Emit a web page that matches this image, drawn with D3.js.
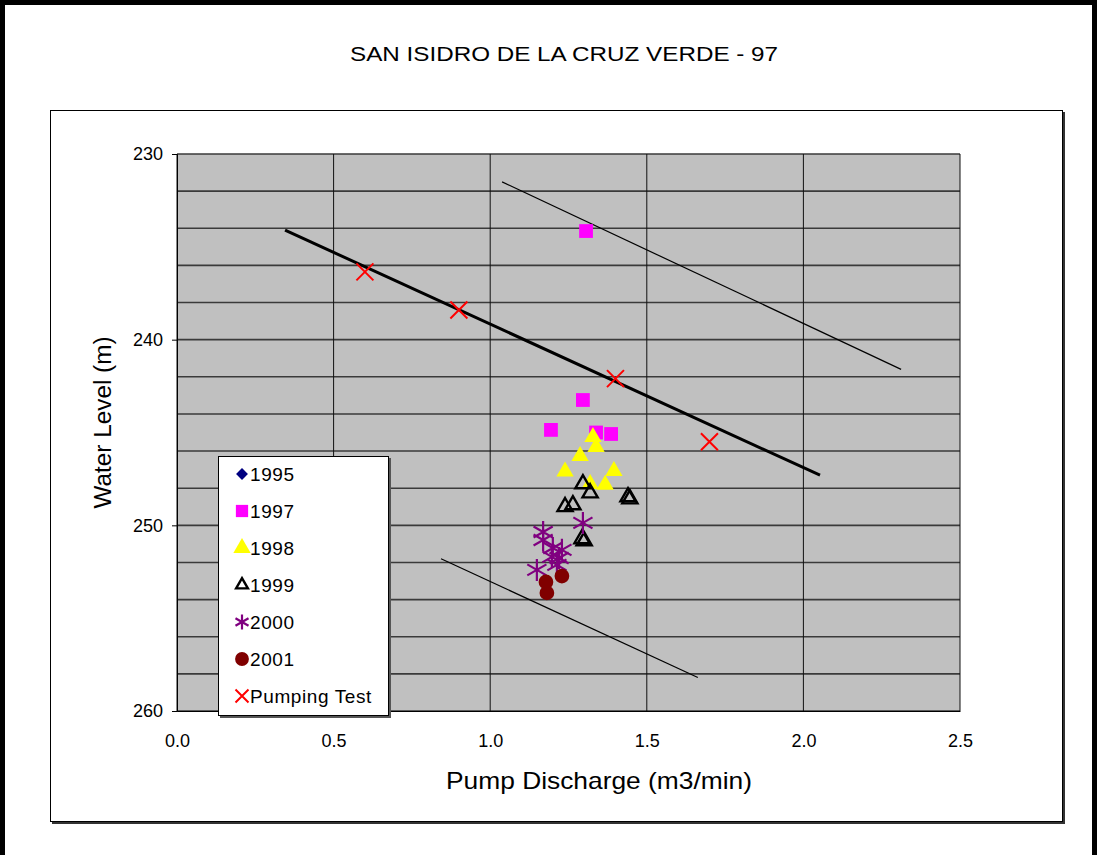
<!DOCTYPE html>
<html>
<head>
<meta charset="utf-8">
<script src="https://cdn.jsdelivr.net/npm/d3@7"></script>
<style>
  body { margin: 0; background: #fff; }
  svg { display: block; font-family: "Liberation Sans", Arial, sans-serif; }
</style>
</head>
<body>
<svg id="chart" width="1097" height="855"></svg>
<script>
// datos: [caudal m3/min, nivel m]
const pts1995 = []
const pts1997 = [[1.306, 234.15], [1.296, 243.25], [1.194, 244.86], [1.338, 245.0], [1.386, 245.08]]
const pts1998 = [[1.328, 245.24], [1.338, 245.78], [1.287, 246.26], [1.239, 247.1], [1.395, 247.07], [1.319, 247.77], [1.367, 247.82]]
const pts1999 = [[1.296, 247.77], [1.319, 248.26], [1.239, 249.0], [1.264, 248.9], [1.44, 248.47], [1.446, 248.58], [1.293, 250.73], [1.30, 250.84]]
const pts2000 = [[1.296, 249.87], [1.169, 250.36], [1.169, 250.79], [1.2, 251.22], [1.229, 251.32], [1.197, 251.7], [1.22, 251.76], [1.213, 252.13], [1.149, 252.4]]
const pts2001 = [[1.178, 253.05], [1.229, 252.73], [1.181, 253.64]]
const ptsPumping = [[0.6, 236.35], [0.9, 238.4], [1.4, 242.1], [1.7, 245.5]]

// lineas de tendencia (extremos)
const lineMain = [[0.345, 234.1], [2.053, 247.3]]
const lineUpper = [[1.038, 231.5], [2.312, 241.6]]
const lineLower = [[0.843, 251.8], [1.663, 258.2]]

const xTicks = [0, 0.5, 1.0, 1.5, 2.0, 2.5]
const yTicks = [230, 240, 250, 260]
const yGrid = d3.range(230, 261, 2)

const svg = d3.select('#chart')

// marco exterior
svg.append('rect')
  .attr('x', 2.5).attr('y', 2.5).attr('width', 1092).attr('height', 900)
  .attr('fill', 'none').attr('stroke', '#000').attr('stroke-width', 5)

svg.append('text')
  .attr('x', 564).attr('y', 61)
  .attr('text-anchor', 'middle')
  .attr('textLength', 428).attr('lengthAdjust', 'spacingAndGlyphs')
  .style('font-size', '21px')
  .text('SAN ISIDRO DE LA CRUZ VERDE - 97')

// caja del grafico con sombra
svg.append('rect').attr('x', 52).attr('y', 112).attr('width', 1013).attr('height', 712).attr('fill', '#333')
svg.append('rect').attr('x', 50.5).attr('y', 110.5).attr('width', 1012).attr('height', 711)
  .attr('fill', '#fff').attr('stroke', '#000').attr('stroke-width', 1)

const x = d3.scaleLinear().domain([0, 2.5]).range([177, 960])
const y = d3.scaleLinear().domain([230, 260]).range([154, 711])

svg.append('rect')
  .attr('x', x(0)).attr('y', y(230))
  .attr('width', x(2.5) - x(0)).attr('height', y(260) - y(230))
  .attr('fill', '#c0c0c0')

// grilla
svg.append('g').selectAll('line')
  .data(yGrid)
  .enter().append('line')
  .attr('x1', x(0)).attr('x2', x(2.5))
  .attr('y1', d => y(d)).attr('y2', d => y(d))
  .attr('stroke', '#3a3a3a').attr('stroke-width', 1.6)

svg.append('g').selectAll('line')
  .data(xTicks)
  .enter().append('line')
  .attr('x1', d => x(d)).attr('x2', d => x(d))
  .attr('y1', y(230)).attr('y2', y(260))
  .attr('stroke', '#111').attr('stroke-width', 1)

// ejes
const yAxis = svg.append('g')
  .attr('transform', `translate(${x(0)},0)`)
  .call(d3.axisLeft(y).tickValues(yTicks).tickSize(5).tickPadding(9).tickFormat(d3.format('d')))
yAxis.selectAll('text').style('font-size', '18px').attr('fill', '#000')
yAxis.select('.domain').attr('stroke', '#000')

const xAxis = svg.append('g')
  .attr('transform', `translate(0,${y(260)})`)
  .call(d3.axisBottom(x).tickValues(xTicks).tickSize(0).tickPadding(23).tickFormat(d3.format('.1f')))
xAxis.selectAll('text').style('font-size', '18px').attr('fill', '#000')
xAxis.select('.domain').attr('stroke', '#000')

svg.append('text')
  .attr('transform', `translate(111,${(y(230) + y(260)) / 2 - 10}) rotate(-90)`)
  .attr('text-anchor', 'middle')
  .attr('textLength', 172).attr('lengthAdjust', 'spacingAndGlyphs')
  .style('font-size', '23px')
  .text('Water Level (m)')

svg.append('text')
  .attr('x', 599).attr('y', 789)
  .attr('text-anchor', 'middle')
  .attr('textLength', 306).attr('lengthAdjust', 'spacingAndGlyphs')
  .style('font-size', '24px')
  .text('Pump Discharge (m3/min)')

// lineas
const lineGen = d3.line().x(d => x(d[0])).y(d => y(d[1]))
svg.append('path').attr('d', lineGen(lineUpper)).attr('stroke', '#000').attr('stroke-width', 1.2).attr('fill', 'none')
svg.append('path').attr('d', lineGen(lineLower)).attr('stroke', '#000').attr('stroke-width', 1.2).attr('fill', 'none')
svg.append('path').attr('d', lineGen(lineMain)).attr('stroke', '#000').attr('stroke-width', 3).attr('fill', 'none')

// simbolos
const asterisk = r => `M0,${-r}V${r}M${-r * 0.87},${-r * 0.5}L${r * 0.87},${r * 0.5}M${-r * 0.87},${r * 0.5}L${r * 0.87},${-r * 0.5}`
const cross = r => `M${-r},${-r}L${r},${r}M${-r},${r}L${r},${-r}`

const series = [
  { name: '1995', data: pts1995, draw: g => g.attr('d', d3.symbol(d3.symbolDiamond2, 120)()).attr('fill', '#000080') },
  { name: '1997', data: pts1997, draw: g => g.attr('d', d3.symbol(d3.symbolSquare, 190)()).attr('fill', '#ff00ff') },
  { name: '1998', data: pts1998, draw: g => g.attr('d', d3.symbol(d3.symbolTriangle, 130)()).attr('fill', '#ffff00') },
  { name: '1999', data: pts1999, draw: g => g.attr('d', d3.symbol(d3.symbolTriangle, 100)()).attr('fill', 'none').attr('stroke', '#000').attr('stroke-width', 2.4) },
  { name: '2000', data: pts2000, draw: g => g.attr('d', asterisk(11)).attr('fill', 'none').attr('stroke', '#800080').attr('stroke-width', 2.2) },
  { name: '2001', data: pts2001, draw: g => g.attr('d', d3.symbol(d3.symbolCircle, 170)()).attr('fill', '#800000') },
  { name: 'Pumping Test', data: ptsPumping, draw: g => g.attr('d', cross(8.5)).attr('fill', 'none').attr('stroke', '#ff0000').attr('stroke-width', 2) }
]

series.forEach(s => {
  svg.append('g').selectAll('path')
    .data(s.data)
    .enter().append('path')
    .attr('transform', d => `translate(${x(d[0])},${y(d[1])})`)
    .call(s.draw)
})

// leyenda
const leg = svg.append('g').attr('transform', 'translate(218,456)')
leg.append('rect').attr('x', 2).attr('y', 2).attr('width', 171).attr('height', 260).attr('fill', '#555')
leg.append('rect').attr('x', 0.5).attr('y', 0.5).attr('width', 170).attr('height', 259)
  .attr('fill', '#fff').attr('stroke', '#000').attr('stroke-width', 1)

series.forEach((s, i) => {
  const row = leg.append('g').attr('transform', `translate(0,${18 + i * 37})`)
  row.append('path').attr('transform', 'translate(24,0)')
    .call(g => {
      s.draw(g)
      if (s.name === '1999') g.attr('d', d3.symbol(d3.symbolTriangle, 60)())
      if (s.name === '2000') g.attr('d', asterisk(7.5))
      if (s.name === 'Pumping Test') g.attr('d', cross(6.5))
      if (s.name === '1995') g.attr('d', d3.symbol(d3.symbolDiamond2, 90)())
      if (s.name === '1997') g.attr('d', d3.symbol(d3.symbolSquare, 150)())
      if (s.name === '2001') g.attr('d', d3.symbol(d3.symbolCircle, 150)())
    })
  row.append('text').attr('x', 32).attr('y', 7)
    .style('font-size', '19px').style('letter-spacing', '0.6px')
    .text(s.name)
})
</script>
</body>
</html>
